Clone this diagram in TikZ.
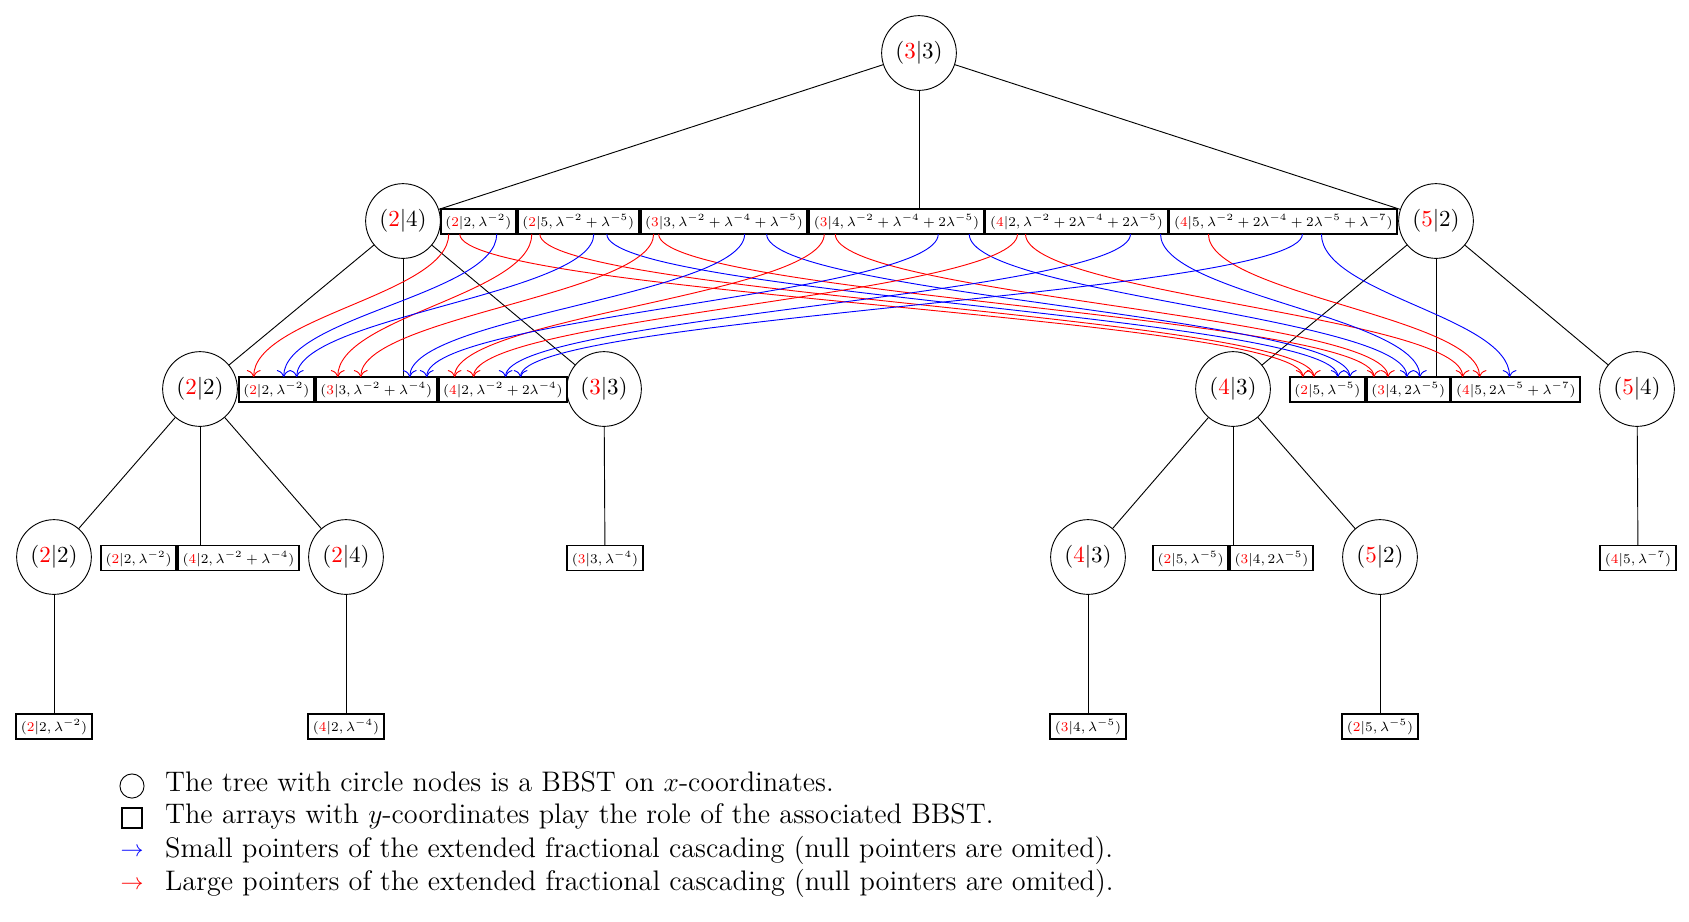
\documentclass[tikz,border=0pt]{standalone}
\usepackage{amsmath,amssymb}
\usepackage{graphicx}
\usepackage{xcolor}
\usepackage{tikz}
\usetikzlibrary{arrows.meta,positioning,calc,matrix}

\newcommand{\xlab}[2]{$(\textcolor{red}{#1}|#2)$}
\newcommand{\cellab}[3]{\scalebox{0.835}{$(\textcolor{red}{#1}|#2, #3)$}}

\begin{document}
\begin{tikzpicture}[
    x=0.435pt, y=-0.435pt,
    vert/.style={circle, draw, minimum size=32.5pt, inner sep=0pt},
    arrcell/.style={rectangle, draw, thick, font=\scriptsize, inner xsep=2pt, inner ysep=1.2pt, text height=6.5pt, text depth=2pt, outer sep=0pt},
    arr/.style={matrix of nodes, nodes={arrcell}, column sep=0pt, inner sep=0pt, outer sep=0pt},
    smallptr/.style={-{To[length=3pt,width=6pt]}, blue},
    largeptr/.style={-{To[length=3pt,width=6pt]}, red},
    legtext/.style={anchor=west, font=\fontsize{12.3}{14.8}\selectfont, text height=1.6ex, text depth=.4ex}
]
    \useasboundingbox (0,0) rectangle (1689,921);

    % BBST on x-coordinates
    \node[vert] (root) at (919,53) {\xlab{3}{3}};
    \node[vert] (n24) at (403,221) {\xlab{2}{4}};
    \node[vert] (n52) at (1436,221) {\xlab{5}{2}};
    \node[vert] (n22) at (200,389) {\xlab{2}{2}};
    \node[vert] (n33) at (604,389) {\xlab{3}{3}};
    \node[vert] (n43) at (1233,389) {\xlab{4}{3}};
    \node[vert] (n54) at (1637,389) {\xlab{5}{4}};
    \node[vert] (m22) at (54,557) {\xlab{2}{2}};
    \node[vert] (m24) at (346,557) {\xlab{2}{4}};
    \node[vert] (m43) at (1088,557) {\xlab{4}{3}};
    \node[vert] (m52) at (1380,557) {\xlab{5}{2}};

    % Arrays with y-coordinates
    \matrix (ta) [arr] at (919,221.5) {
        \cellab{2}{2}{\lambda^{-2}} &
        \cellab{2}{5}{\lambda^{-2}+\lambda^{-5}} &
        \cellab{3}{3}{\lambda^{-2}+\lambda^{-4}+\lambda^{-5}} &
        \cellab{3}{4}{\lambda^{-2}+\lambda^{-4}+2\lambda^{-5}} &
        \cellab{4}{2}{\lambda^{-2}+2\lambda^{-4}+2\lambda^{-5}} &
        \cellab{4}{5}{\lambda^{-2}+2\lambda^{-4}+2\lambda^{-5}+\lambda^{-7}} \\
    };
    \matrix (la) [arr] at (403,389.5) {
        \cellab{2}{2}{\lambda^{-2}} &
        \cellab{3}{3}{\lambda^{-2}+\lambda^{-4}} &
        \cellab{4}{2}{\lambda^{-2}+2\lambda^{-4}} \\
    };
    \matrix (ra) [arr] at (1435,389.5) {
        \cellab{2}{5}{\lambda^{-5}} &
        \cellab{3}{4}{2\lambda^{-5}} &
        \cellab{4}{5}{2\lambda^{-5}+\lambda^{-7}} \\
    };
    \matrix (aa) [arr] at (200,558) {
        \cellab{2}{2}{\lambda^{-2}} &
        \cellab{4}{2}{\lambda^{-2}+\lambda^{-4}} \\
    };
    \node[arrcell] (b33) at (605,558) {\cellab{3}{3}{\lambda^{-4}}};
    \matrix (ca) [arr] at (1233,558) {
        \cellab{2}{5}{\lambda^{-5}} &
        \cellab{3}{4}{2\lambda^{-5}} \\
    };
    \node[arrcell] (d54) at (1638,558) {\cellab{4}{5}{\lambda^{-7}}};
    \node[arrcell] (e22) at (54,726.5) {\cellab{2}{2}{\lambda^{-2}}};
    \node[arrcell] (e24) at (346,726.5) {\cellab{4}{2}{\lambda^{-4}}};
    \node[arrcell] (e43) at (1088,726.5) {\cellab{3}{4}{\lambda^{-5}}};
    \node[arrcell] (e52) at (1380,726.5) {\cellab{2}{5}{\lambda^{-5}}};

    % Tree edges
    \draw (root) -- (n24);
    \draw (root) -- (n52);
    \draw (n24) -- (n22);
    \draw (n24) -- (n33);
    \draw (n52) -- (n43);
    \draw (n52) -- (n54);
    \draw (n22) -- (m22);
    \draw (n22) -- (m24);
    \draw (n43) -- (m43);
    \draw (n43) -- (m52);

    % Node to its array
    \draw (root.south) -- (root.south |- ta-1-4.north);
    \draw (n24.south) -- (n24.south |- la-1-2.north);
    \draw (n52.south) -- (n52.south |- ra-1-2.north);
    \draw (n22.south) -- (n22.south |- aa-1-2.north);
    \draw (n33) -- (b33);
    \draw (n43.south) -- (n43.south |- ca-1-2.north);
    \draw (n54) -- (d54);
    \draw (m22) -- (e22);
    \draw (m24) -- (e24);
    \draw (m43) -- (e43);
    \draw (m52) -- (e52);

    % Pointers of the extended fractional cascading
    \draw[largeptr] ($(ta-1-1.south west)+(8,0)$) .. controls +(0,60) and +(0,-60) .. ($(la-1-1.north west)+(15,0)$);
    \draw[largeptr] ($(ta-1-1.south west)+(19,0)$) .. controls +(0,60) and +(0,-60) .. ($(ra-1-1.north west)+(13,0)$);
    \draw[smallptr] ($(ta-1-1.south west)+(56,0)$) .. controls +(0,60) and +(0,-60) .. ($(la-1-1.north west)+(45,0)$);

    \draw[largeptr] ($(ta-1-2.south west)+(14,0)$) .. controls +(0,60) and +(0,-60) .. ($(la-1-2.north west)+(22,0)$);
    \draw[largeptr] ($(ta-1-2.south west)+(22,0)$) .. controls +(0,60) and +(0,-60) .. ($(ra-1-1.north west)+(24,0)$);
    \draw[smallptr] ($(ta-1-2.south west)+(76,0)$) .. controls +(0,60) and +(0,-60) .. ($(la-1-1.north west)+(58,0)$);
    \draw[smallptr] ($(ta-1-2.south west)+(89,0)$) .. controls +(0,60) and +(0,-60) .. ($(ra-1-1.north west)+(48,0)$);

    \draw[largeptr] ($(ta-1-3.south west)+(13,0)$) .. controls +(0,60) and +(0,-60) .. ($(la-1-2.north west)+(45,0)$);
    \draw[largeptr] ($(ta-1-3.south west)+(18,0)$) .. controls +(0,60) and +(0,-60) .. ($(ra-1-2.north west)+(7,0)$);
    \draw[smallptr] ($(ta-1-3.south west)+(104,0)$) .. controls +(0,60) and +(0,-60) .. ($(la-1-2.north west)+(94,0)$);
    \draw[smallptr] ($(ta-1-3.south west)+(126,0)$) .. controls +(0,60) and +(0,-60) .. ($(ra-1-1.north west)+(60,0)$);

    \draw[largeptr] ($(ta-1-4.south west)+(15,0)$) .. controls +(0,60) and +(0,-60) .. ($(la-1-3.north west)+(16,0)$);
    \draw[largeptr] ($(ta-1-4.south west)+(26,0)$) .. controls +(0,60) and +(0,-60) .. ($(ra-1-2.north west)+(21,0)$);
    \draw[smallptr] ($(ta-1-4.south west)+(129,0)$) .. controls +(0,60) and +(0,-60) .. ($(la-1-2.north west)+(111,0)$);
    \draw[smallptr] ($(ta-1-4.south west)+(160,0)$) .. controls +(0,60) and +(0,-60) .. ($(ra-1-2.north west)+(40,0)$);

    \draw[largeptr] ($(ta-1-5.south west)+(32,0)$) .. controls +(0,60) and +(0,-60) .. ($(la-1-3.north west)+(35,0)$);
    \draw[largeptr] ($(ta-1-5.south west)+(40,0)$) .. controls +(0,60) and +(0,-60) .. ($(ra-1-3.north west)+(11,0)$);
    \draw[smallptr] ($(ta-1-5.south west)+(145,0)$) .. controls +(0,60) and +(0,-60) .. ($(la-1-3.north west)+(67,0)$);
    \draw[smallptr] ($(ta-1-5.south west)+(175,0)$) .. controls +(0,60) and +(0,-60) .. ($(ra-1-2.north west)+(53,0)$);

    \draw[largeptr] ($(ta-1-6.south west)+(39,0)$) .. controls +(0,60) and +(0,-60) .. ($(ra-1-3.north west)+(28,0)$);
    \draw[smallptr] ($(ta-1-6.south west)+(133,0)$) .. controls +(0,60) and +(0,-60) .. ($(la-1-3.north west)+(82,0)$);
    \draw[smallptr] ($(ta-1-6.south west)+(152,0)$) .. controls +(0,60) and +(0,-60) .. ($(ra-1-3.north west)+(58,0)$);

    % Legend
    \node[circle, draw, minimum size=10.5pt, inner sep=0pt] (lg1) at (132,786) {};
    \node[draw, thick, minimum size=9pt, inner sep=0pt] (lg2) at (132,818) {};
    \node[text=blue, inner sep=0pt] (lg3) at (132,852) {$\rightarrow$};
    \node[text=red, inner sep=0pt] (lg4) at (132,885) {$\rightarrow$};
    \node[legtext] (lt1) at (157,786) {The tree with circle nodes is a BBST on $x$-coordinates.};
    \node[legtext] (lt2) at (157,818) {The arrays with $y$-coordinates play the role of the associated BBST.};
    \node[legtext] (lt3) at (157,852) {Small pointers of the extended fractional cascading (null pointers are omited).};
    \node[legtext] (lt4) at (157,885) {Large pointers of the extended fractional cascading (null pointers are omited).};
\end{tikzpicture}
\end{document}
